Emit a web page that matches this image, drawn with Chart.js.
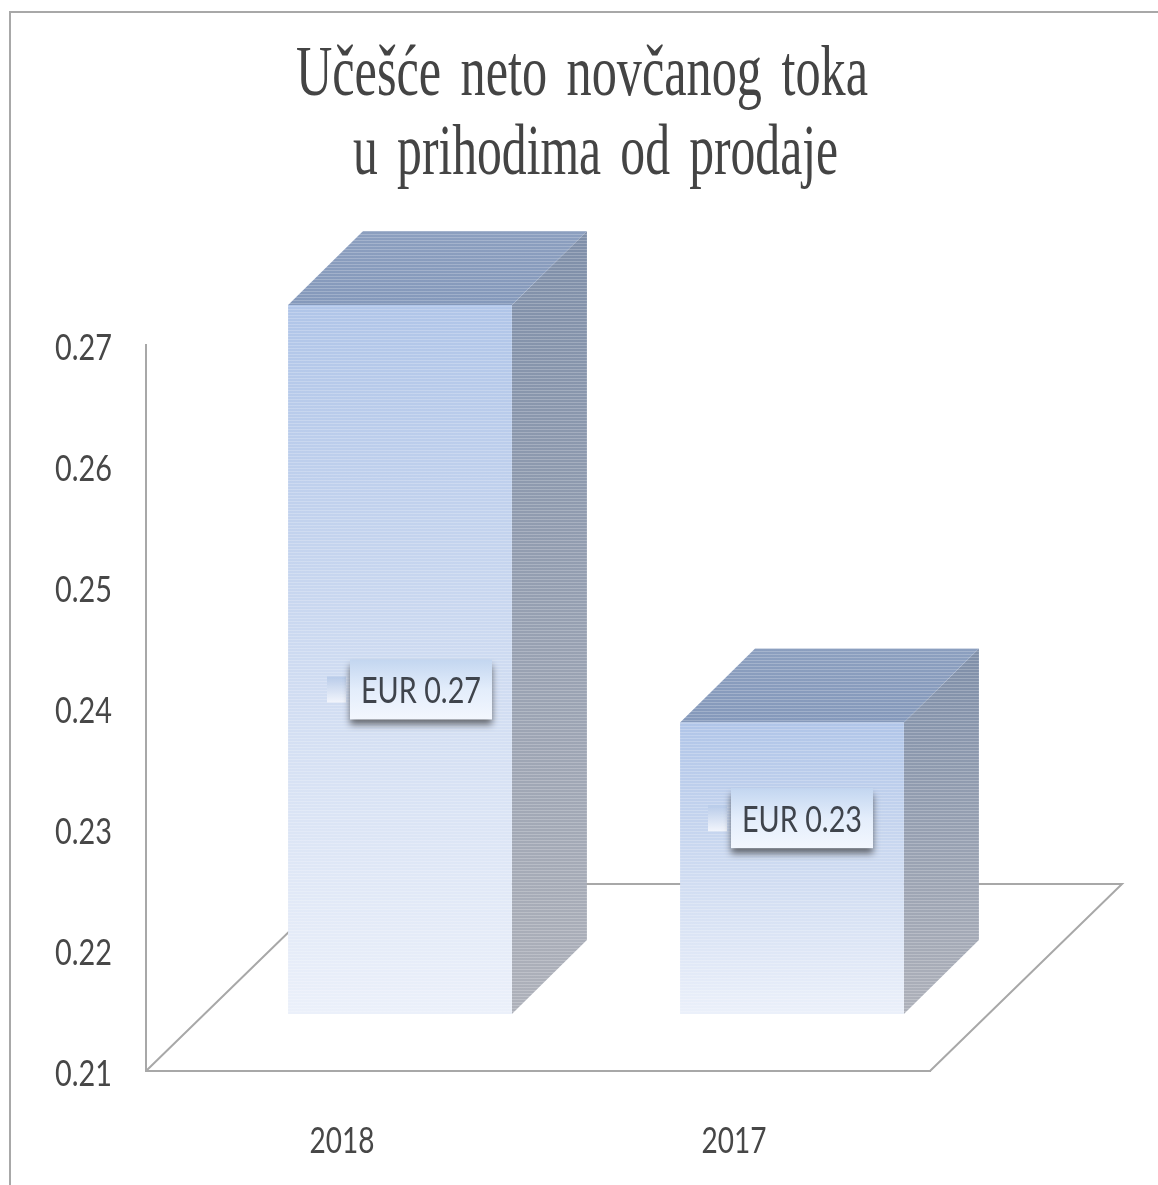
<!DOCTYPE html>
<html>
<head>
<meta charset="utf-8">
<style>
  html, body { margin: 0; padding: 0; background: #fff; overflow: hidden; }
  canvas { display: block; }
</style>
<script src="https://cdn.jsdelivr.net/npm/chart.js@4"></script>
</head>
<body>
<canvas id="myChart" width="1158" height="1185"></canvas>
<script>
const categories = ['2018', '2017'];
const values = [0.2686, 0.2341];
const valueLabels = ['EUR 0.27', 'EUR 0.23'];
const yTicks = ['0.21', '0.22', '0.23', '0.24', '0.25', '0.26', '0.27'];
const titleLines = ['Učešće neto novčanog toka', 'u prihodima od prodaje'];

// the bars stand in the middle of the floor, not on its front edge
const barShift = { x: 58, y: -57 };
const barDepth = { x: 75, y: -74 };
const floorDepth = { x: 192, y: -187 };
// where the value boxes sit, measured from the bar centre
const labelShift = [{ x: 21, y: 30 }, { x: 10, y: -50 }];
const textFont = '37px Lato';

// vertical gradient with thin light scan lines on top of it
function stripes(ctx, top, bottom, c1, c2) {
    const off = document.createElement('canvas');
    off.width = 4;
    off.height = 1185;
    const o = off.getContext('2d');
    const grad = o.createLinearGradient(0, top, 0, bottom);
    grad.addColorStop(0, c1);
    grad.addColorStop(1, c2);
    o.fillStyle = grad;
    o.fillRect(0, 0, 4, 1185);
    o.fillStyle = 'rgba(255,255,255,0.22)';
    for (let y = 0; y < 1185; y += 3) {
        o.fillRect(0, y, 4, 1);
    }
    return ctx.createPattern(off, 'repeat');
}

function face(ctx, pts, fill) {
    ctx.beginPath();
    ctx.moveTo(pts[0][0], pts[0][1]);
    pts.slice(1).forEach(p => ctx.lineTo(p[0], p[1]));
    ctx.closePath();
    ctx.fillStyle = fill;
    ctx.fill();
}

const cube3d = {
    id: 'cube3d',
    beforeDraw(chart) {
        const ctx = chart.ctx;
        ctx.save();
        // frame of the picture
        ctx.strokeStyle = '#a8a8a8';
        ctx.lineWidth = 2;
        ctx.beginPath();
        ctx.moveTo(10, 1185);
        ctx.lineTo(10, 12);
        ctx.lineTo(1158, 12);
        ctx.stroke();
        // title, condensed like in the original
        ctx.fillStyle = '#444';
        ctx.textAlign = 'left';
        ctx.textBaseline = 'alphabetic';
        ctx.font = '72px "Liberation Serif"';
        ctx.wordSpacing = '10px';
        ctx.fillText(titleLines[0], 296, 95, 572);
        ctx.fillText(titleLines[1], 353, 174, 485);
        ctx.wordSpacing = '0px';
        // axis labels squeezed the same way, the library has no option for it
        ctx.font = textFont;
        ctx.fillStyle = '#474747';
        ctx.textBaseline = 'middle';
        ctx.textAlign = 'right';
        yTicks.forEach(t => {
            ctx.fillText(t, 112, chart.scales.y.getPixelForValue(Number(t)) + 3, 57);
        });
        ctx.textAlign = 'center';
        categories.forEach((c, i) => {
            ctx.fillText(c, chart.scales.x.getPixelForValue(i), 1141, 65);
        });
        ctx.restore();
    },
    beforeDatasetsDraw(chart) {
        const ctx = chart.ctx;
        const a = chart.chartArea;
        ctx.save();
        // floor outline
        ctx.strokeStyle = '#a8a8a8';
        ctx.lineWidth = 2;
        ctx.beginPath();
        ctx.moveTo(a.left, a.bottom);
        ctx.lineTo(a.left + floorDepth.x, a.bottom + floorDepth.y);
        ctx.lineTo(a.right + floorDepth.x, a.bottom + floorDepth.y);
        ctx.lineTo(a.right, a.bottom);
        ctx.stroke();
        // side and top faces
        chart.getDatasetMeta(0).data.forEach(bar => {
            const l = bar.x - bar.width / 2 + barShift.x;
            const r = bar.x + bar.width / 2 + barShift.x;
            const t = bar.y + barShift.y;
            const b = bar.base + barShift.y;
            const dx = barDepth.x;
            const dy = barDepth.y;
            face(ctx, [[r, t], [r + dx, t + dy], [r + dx, b + dy], [r, b]],
                stripes(ctx, t + dy, b, '#7f8fa9', '#aeb1ba'));
            face(ctx, [[l, t], [l + dx, t + dy], [r + dx, t + dy], [r, t]],
                stripes(ctx, t + dy, t, '#8c9fbf', '#8599bb'));
        });
        ctx.restore();
    },
    beforeDatasetDraw(chart) {
        chart.ctx.save();
        chart.ctx.translate(barShift.x, barShift.y);
    },
    afterDatasetDraw(chart) {
        chart.ctx.restore();
    },
    afterDatasetsDraw(chart) {
        const ctx = chart.ctx;
        chart.getDatasetMeta(0).data.forEach((bar, i) => {
            const cx = bar.x + barShift.x + labelShift[i].x;
            const cy = (bar.y + bar.base) / 2 + barShift.y + labelShift[i].y;
            const w = 142;
            const h = 60;
            const x = cx - w / 2;
            const y = cy - h / 2;
            ctx.save();
            // legend key left of the box
            const keyGrad = ctx.createLinearGradient(0, cy - 13, 0, cy + 13);
            keyGrad.addColorStop(0, '#b8cbe9');
            keyGrad.addColorStop(1, '#f2f5fc');
            ctx.fillStyle = keyGrad;
            ctx.fillRect(x - 23, cy - 13, 19, 26);
            // box with its shadow
            const boxGrad = ctx.createLinearGradient(0, y, 0, y + h);
            boxGrad.addColorStop(0, '#c3d6f0');
            boxGrad.addColorStop(0.5, '#e3edfb');
            boxGrad.addColorStop(1, '#f3f7fe');
            ctx.shadowColor = 'rgba(40,40,40,0.65)';
            ctx.shadowBlur = 7;
            ctx.shadowOffsetY = 6;
            ctx.fillStyle = boxGrad;
            ctx.fillRect(x, y, w, h);
            ctx.shadowColor = 'transparent';
            ctx.fillStyle = '#3f444c';
            ctx.font = textFont;
            ctx.textAlign = 'center';
            ctx.textBaseline = 'middle';
            ctx.fillText(valueLabels[i], cx, cy + 2, 120);
            ctx.restore();
        });
    }
};

const ctx = document.getElementById('myChart');
const mycoolchart = new Chart(ctx, {
    type: 'bar',
    data: {
        labels: categories,
        datasets: [{
            label: 'Učešće neto novčanog toka u prihodima od prodaje',
            data: values,
            base: 0.21,
            clip: false,
            barPercentage: 0.571,
            categoryPercentage: 1,
            borderWidth: 0,
            backgroundColor: function(c) {
                const y = c.chart.scales.y;
                const top = y.getPixelForValue(values[c.dataIndex]);
                const bottom = y.getPixelForValue(0.21);
                // scale is not ready on the first resolve
                if (!isFinite(top) || !isFinite(bottom)) return '#b4c8e8';
                // the pattern moves with the bar shift, so unshifted pixels are right here
                return stripes(c.chart.ctx, top, bottom, '#b0c5e8', '#ebf0fa');
            }
        }]
    },
    plugins: [cube3d],
    options: {
        responsive: false,
        animation: false,
        layout: { padding: { top: 345, right: 228, left: 0, bottom: 0 } },
        plugins: {
            legend: { display: false },
            tooltip: { enabled: false }
        },
        scales: {
            x: {
                grid: { display: false },
                border: { display: true, color: '#a8a8a8', width: 2 },
                ticks: { display: false },
                afterFit(scale) { scale.height = 114; }
            },
            y: {
                min: 0.21,
                max: 0.27,
                grid: { display: false },
                border: { display: true, color: '#a8a8a8', width: 2 },
                ticks: { display: false, stepSize: 0.01 },
                afterFit(scale) { scale.width = 146; }
            }
        }
    }
});
</script>
</body>
</html>
